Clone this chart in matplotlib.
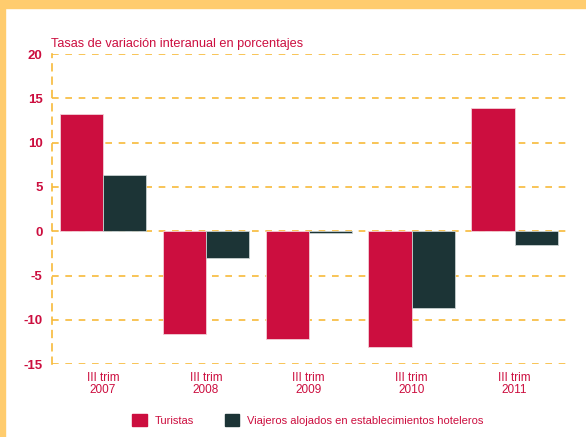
import matplotlib.pyplot as plt
import numpy as np
from matplotlib.patches import Rectangle

categories = ["III trim\n2007", "III trim\n2008", "III trim\n2009", "III trim\n2010", "III trim\n2011"]
turistas = [13.2, -11.6, -12.1, -13.1, 13.9]
viajeros = [6.3, -3.0, -0.2, -8.6, -1.6]
yticks = [20, 15, 10, 5, 0, -5, -10, -15]

red = "#CC0E3F"
dark = "#1C3436"
grid_col = "#F7BA3A"
frame_col = "#FFCC6E"

plt.rcParams["font.family"] = ["Liberation Sans", "DejaVu Sans"]

fig = plt.figure(figsize=(5.86, 4.37), dpi=100)

# orange frame (top and left)
fig.patches.append(Rectangle((0, 1 - 8 / 437), 1, 8 / 437, transform=fig.transFigure,
                             color=frame_col, zorder=0))
fig.patches.append(Rectangle((0, 0), 5 / 586, 1, transform=fig.transFigure,
                             color=frame_col, zorder=0))

ax = fig.add_axes([0.0879, 0.1664, 0.966 - 0.0879, 0.8764 - 0.1664])

x = np.arange(len(categories))
w = 0.42
ax.bar(x - w / 2, turistas, w, color=red, edgecolor="#f2d0d8", linewidth=0.6, zorder=3)
ax.bar(x + w / 2, viajeros, w, color=dark, edgecolor="#c8d0d0", linewidth=0.6, zorder=3)

ax.set_xlim(-0.5, 4.5)
ax.set_ylim(-15, 20)
ax.set_yticks(yticks)
ax.set_yticklabels([str(t) for t in yticks], fontsize=9.5, fontweight="bold", color=red)
ax.set_xticks(x)
ax.set_xticklabels(categories, fontsize=8.5, color=red, linespacing=1.05)
ax.tick_params(axis="both", length=0)
ax.tick_params(axis="y", pad=6.5)
ax.tick_params(axis="x", pad=5.5)

for t in yticks:
    ax.axhline(t, color=grid_col, lw=1.2, ls=(0, (4, 4)), zorder=1)

for s in ["top", "right", "bottom"]:
    ax.spines[s].set_visible(False)
ax.spines["left"].set_color(grid_col)
ax.spines["left"].set_linestyle((0, (4, 4)))
ax.spines["left"].set_linewidth(1.2)

fig.text(51 / 586, 1 - 46.5 / 437, "Tasas de variación interanual en porcentajes",
         fontsize=9.2, color=red, ha="left", va="baseline")

handles = [Rectangle((0, 0), 1, 1, color=red), Rectangle((0, 0), 1, 1, color=dark)]
leg = fig.legend(handles, ["Turistas", "Viajeros alojados en establecimientos hoteleros"],
                 loc="center", bbox_to_anchor=(308 / 586, 1 - 420 / 437), ncol=2,
                 frameon=False, fontsize=8, handlelength=1.3, handleheight=1.3,
                 columnspacing=2.8, handletextpad=0.7)
for txt in leg.get_texts():
    txt.set_color(red)

fig.savefig("out.png", dpi=100)
